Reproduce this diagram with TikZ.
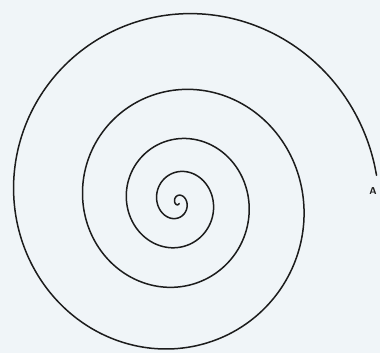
\documentclass[tikz,border=0pt]{standalone}
\usepackage{tikz}
\usetikzlibrary{positioning}
\definecolor{paper}{RGB}{240,245,248}
\definecolor{ink}{RGB}{28,28,28}

\begin{document}
\begin{tikzpicture}[
    x=1pt, y=-1pt,
    declare function={
        spirr(\t) = (\t<0) ? (16*exp(0.445*\t)) :
                    (16+7.125*\t-0.0625*\t^2+0.03125*\t^3-1.27*max(0,\t-13)^3);
        spirx(\t) = spirr(\t)-3*spirr(\t)/(spirr(\t)+10);
    },
    spiral/.style={draw=ink, line width=1.5pt, line cap=round, line join=round},
    endlabel/.style={font=\sffamily\bfseries, text=ink, inner sep=0pt}
]
% paper
\fill[paper] (0,0) rectangle (380,353);
\useasboundingbox (0,0) rectangle (380,353);

\draw[spiral, variable=\t, domain=-4.5:14.92, samples=500, smooth]
    plot ({178+spirx(\t)*cos(90+90*\t)}, {202+spirr(\t)*sin(90+90*\t)});

\node[endlabel] (A) at (373,191) {A};
\end{tikzpicture}
\end{document}
